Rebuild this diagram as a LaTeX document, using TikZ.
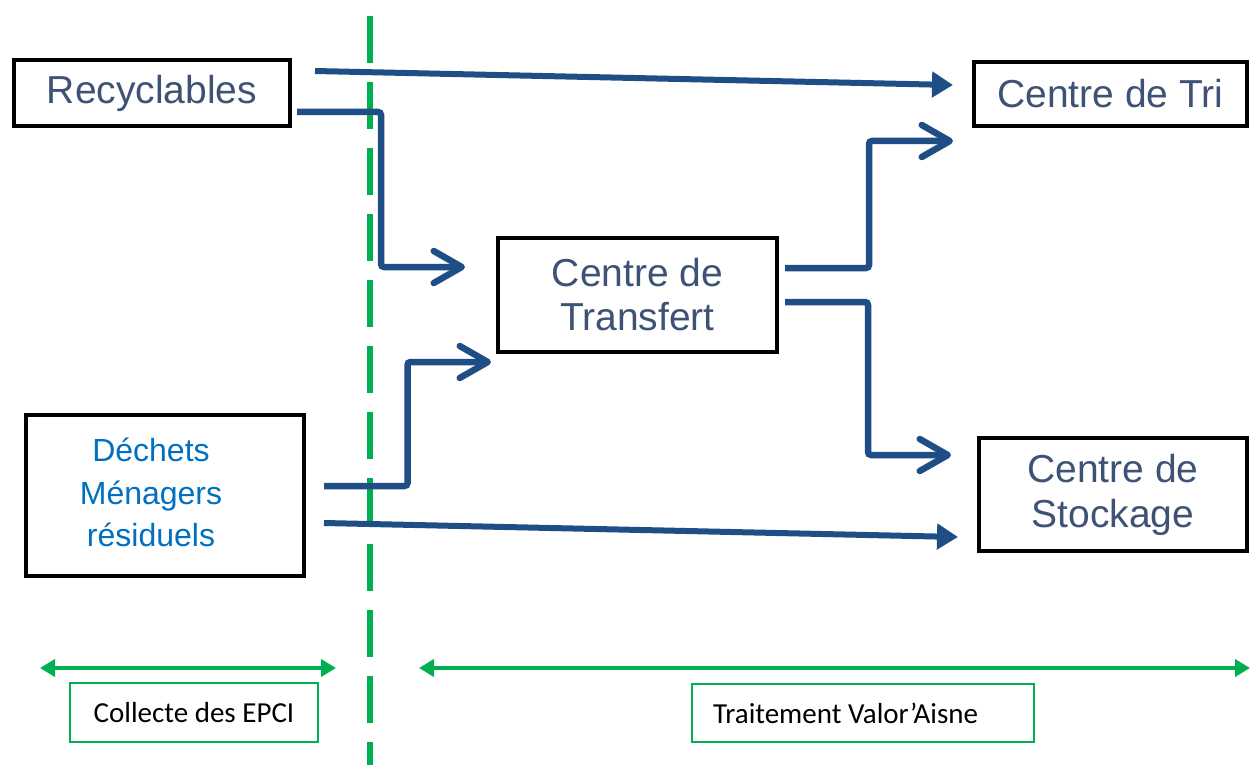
\documentclass[tikz,border=0pt]{standalone}
\usepackage{fontspec}
\setmainfont{Liberation Sans}
\newfontfamily\calfont{Carlito}
\usetikzlibrary{arrows.meta,calc}
\definecolor{flowblue}{RGB}{31,78,135}
\definecolor{txtblue}{RGB}{62,82,117}
\definecolor{dechblue}{RGB}{0,112,192}
\definecolor{grn}{RGB}{0,176,80}
\tikzset{
  bbox/.style={draw=black, line width=4pt, fill=white, inner sep=0pt, align=center,
    text=txtblue, font=\fontsize{39}{44}\selectfont},
  gbox/.style={draw=grn, line width=2pt, inner sep=0pt, align=center,
    font=\calfont\fontsize{29}{34}\selectfont},
  elbow/.style={draw=flowblue, line width=6.5pt, rounded corners=3pt,
    -{Straight Barb[length=28pt,width=32pt,round]}},
  straight/.style={draw=flowblue, line width=6pt, -{Triangle[length=21pt,width=25pt]}},
  span/.style={draw=grn, line width=4.5pt, {Triangle[length=15pt,width=17pt]}-{Triangle[length=15pt,width=17pt]}},
  divider/.style={draw=grn, line width=6pt, dash pattern=on 47pt off 19pt}
}
\begin{document}
\begin{tikzpicture}[x=1pt,y=-1pt]
\useasboundingbox (0,0) rectangle (1250,765);
\fill[white] (0,0) rectangle (1250,765);

% divider
\coordinate (d1) at (370,16);
\coordinate (d2) at (370,765);
\draw[divider] (d1) -- (d2);

% boxes
\node[bbox, minimum width=276pt, minimum height=66pt] (rec) at (152,93) {Recyclables};
\node[bbox, minimum width=273pt, minimum height=64pt] (tri) at (1110.5,94) {Centre de Tri};
\node[bbox, minimum width=279pt, minimum height=114pt, font=\fontsize{39}{44}\selectfont] (tr) at (637.5,295) {Centre de\\Transfert};
\node[bbox, minimum width=278pt, minimum height=161pt, text=dechblue, font=\fontsize{32}{42.5}\selectfont] (dm) at (165,495.5)
  {\hspace*{-28pt}\begin{tabular}{@{}c@{}}Déchets\\Ménagers\\résiduels\end{tabular}};
\node[bbox, minimum width=268pt, minimum height=113pt, font=\fontsize{39}{45}\selectfont] (st) at (1113,494.5) {Centre de\\Stockage};

% connectors
\coordinate (a1) at ($(rec.east)+(23,-22)$);
\coordinate (b1) at ($(tri.west)+(-19,-9)$);
\draw[straight] (a1) -- (b1);

\coordinate (a2) at ($(rec.east)+(5,19)$);
\coordinate (b2) at ($(tr.west)+(-31,-28)$);
\draw[elbow] (a2) -| ($(a2)!0.5!(b2)$) |- (b2);

\coordinate (a3) at ($(tr.east)+(6,-27)$);
\coordinate (b3) at ($(tri.west)+(-19,47)$);
\draw[elbow] (a3) -| ($(a3)!0.5!(b3)$) |- (b3);

\coordinate (a4) at ($(tr.east)+(6,7)$);
\coordinate (b4) at ($(st.west)+(-26,-39.5)$);
\draw[elbow] (a4) -| ($(a4)!0.5!(b4)$) |- (b4);

\coordinate (a5) at ($(dm.east)+(18,-9.5)$);
\coordinate (b5) at ($(tr.west)+(-5,67)$);
\draw[elbow] (a5) -| ($(a5)!0.5!(b5)$) |- (b5);

\coordinate (a6) at ($(dm.east)+(18,27.5)$);
\coordinate (b6) at ($(st.west)+(-19,42.5)$);
\draw[straight] (a6) -- (b6);

% bottom spans
\coordinate (l1) at (40,668);
\coordinate (l2) at (336,668);
\draw[span] (l1) -- (l2);
\coordinate (r1) at (419,668);
\coordinate (r2) at (1250,668);
\draw[span] (r1) -- (r2);

\node[gbox, minimum width=248pt, minimum height=59pt] (col) at (194,712.5) {Collecte des EPCI};
\node[gbox, minimum width=342pt, minimum height=58pt] (trt) at (863,713) {\makebox[300pt][l]{Traitement Valor’Aisne}};
\end{tikzpicture}
\end{document}
